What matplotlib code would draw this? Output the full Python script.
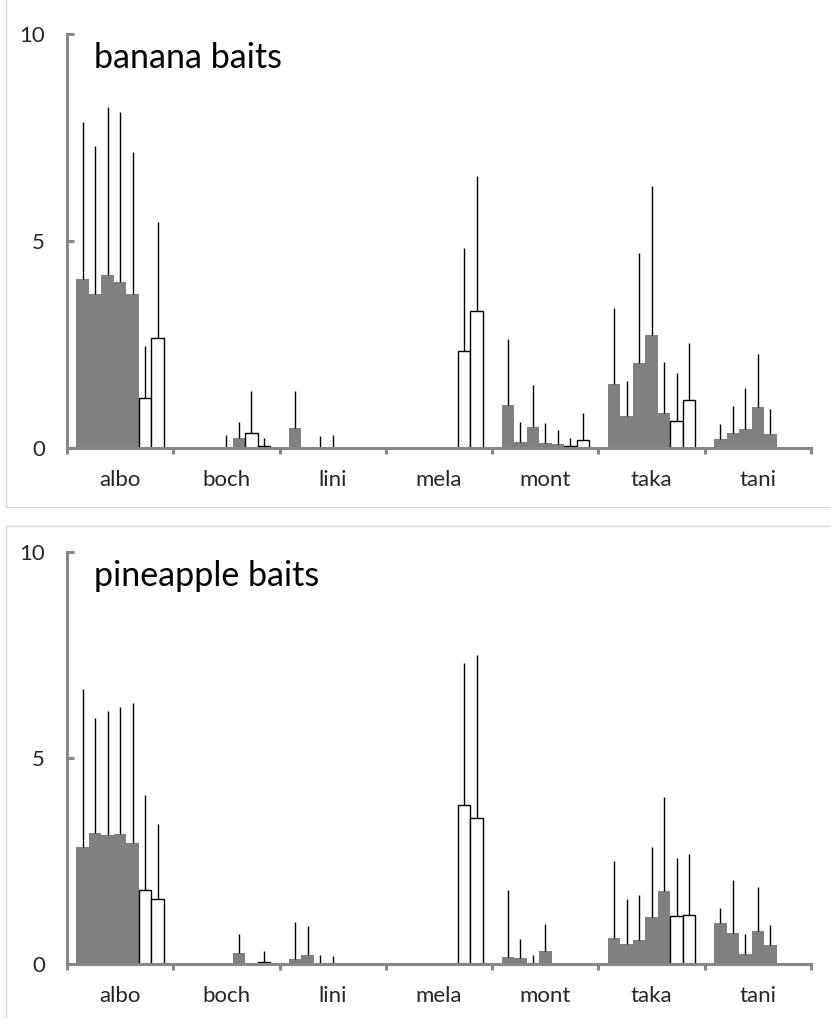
import matplotlib.pyplot as plt
from matplotlib.patches import Rectangle
import numpy as np

plt.rcParams['font.family'] = ['Lato', 'DejaVu Sans']

species = ['albo', 'boch', 'lini', 'mela', 'mont', 'taka', 'tani']
# 7 bars per species: first 5 grey, last 2 white
n_bars = 7
white_bars = [5, 6]

# banana baits: means and upper error (sd) per species
banana_mean = [
    [4.08, 3.72, 4.18, 4.00, 3.72, 1.21, 2.65],
    [0, 0, 0, 0.02, 0.23, 0.36, 0.05],
    [0.48, 0, 0.03, 0.03, 0, 0, 0],
    [0, 0, 0, 0, 0, 2.34, 3.32],
    [1.04, 0.15, 0.51, 0.12, 0.09, 0.05, 0.20],
    [1.54, 0.77, 2.05, 2.74, 0.84, 0.65, 1.17],
    [0.21, 0.37, 0.47, 0.99, 0.35, 0, 0],
]
banana_sd = [
    [3.80, 3.58, 4.05, 4.12, 3.44, 1.25, 2.80],
    [0, 0, 0, 0.29, 0.40, 1.02, 0.18],
    [0.90, 0, 0.27, 0.29, 0, 0, 0],
    [0, 0, 0, 0, 0, 2.50, 3.26],
    [1.59, 0.49, 1.00, 0.48, 0.35, 0.18, 0.64],
    [1.83, 0.85, 2.66, 3.60, 1.23, 1.15, 1.36],
    [0.37, 0.64, 0.99, 1.27, 0.58, 0, 0],
]

# pineapple baits
pineapple_mean = [
    [2.83, 3.18, 3.12, 3.15, 2.93, 1.79, 1.58],
    [0, 0, 0, 0, 0.26, 0, 0.06],
    [0.13, 0.23, 0.01, 0.01, 0, 0, 0],
    [0, 0, 0, 0, 0, 3.86, 3.54],
    [0.18, 0.15, 0.01, 0.31, 0, 0, 0],
    [0.63, 0.49, 0.58, 1.14, 1.76, 1.16, 1.19],
    [1.00, 0.76, 0.25, 0.79, 0.47, 0, 0],
]
pineapple_sd = [
    [3.85, 2.78, 3.03, 3.10, 3.41, 2.30, 1.82],
    [0, 0, 0, 0, 0.48, 0, 0.25],
    [0.90, 0.69, 0.22, 0.19, 0, 0, 0],
    [0, 0, 0, 0, 0, 3.44, 3.97],
    [1.61, 0.45, 0.22, 0.66, 0, 0, 0],
    [1.87, 1.09, 1.09, 1.71, 2.30, 1.42, 1.47],
    [0.37, 1.29, 0.49, 1.09, 0.48, 0, 0],
]

axis_grey = '#878787'
bar_grey = '#808080'
label_col = '#262626'
W, H = 831, 1019
fig = plt.figure(figsize=(W / 100, H / 100), dpi=100)

# light panel borders like the excel chart areas
for (x0, y0, x1, y1) in [(6, -10, 845, 507), (6, 525.5, 845, 1030)]:
    fig.patches.append(Rectangle((x0 / W, 1 - y1 / H), (x1 - x0) / W, (y1 - y0) / H,
                                 transform=fig.transFigure, fill=False,
                                 edgecolor='#d9d9d9', linewidth=1))


def draw_panel(ax, means, sds, title):
    w = 1 / 8.5  # excel gap width 150%
    for g in range(len(species)):
        for j in range(n_bars):
            x = g + 0.5 + (j - 3) * w
            m = means[g][j]
            s = sds[g][j]
            if j in white_bars:
                ax.bar(x, m, width=w, color='white', edgecolor='black', linewidth=1, zorder=2)
            else:
                ax.bar(x, m, width=w, color=bar_grey, linewidth=0, zorder=2)
            if s > 0:
                ax.errorbar(x, m, yerr=[[0], [s]], fmt='none', ecolor='black',
                            elinewidth=1, capsize=0, zorder=3)

    ax.set_xlim(0, 7)
    ax.set_ylim(0, 10)
    for side in ['top', 'right']:
        ax.spines[side].set_visible(False)
    for side in ['left', 'bottom']:
        ax.spines[side].set_color(axis_grey)
        ax.spines[side].set_linewidth(2.2)
        ax.spines[side].set_zorder(4)

    ax.set_yticks([0, 5, 10])
    ax.tick_params(axis='y', direction='in', length=5, width=2.2, color=axis_grey,
                   labelsize=16, pad=16, labelcolor=label_col)
    ax.set_xticks(np.arange(0, 8))
    ax.set_xticklabels([])
    ax.set_xticks(np.arange(len(species)) + 0.5, minor=True)
    ax.set_xticklabels(species, minor=True)
    ax.tick_params(axis='x', which='major', direction='out', length=4, width=2.2, color=axis_grey)
    ax.tick_params(axis='x', which='minor', length=0, labelsize=16, pad=16, labelcolor=label_col)

    ax.text(0.254, 9.17, title, fontsize=24.5, va='baseline', ha='left', color='black')


ax1 = fig.add_axes([67 / W, 1 - 448 / H, 744 / W, 414 / H])
ax2 = fig.add_axes([67 / W, 1 - 964 / H, 744 / W, 412 / H])
draw_panel(ax1, banana_mean, banana_sd, 'banana baits')
draw_panel(ax2, pineapple_mean, pineapple_sd, 'pineapple baits')

fig.savefig('out.png', dpi=100)
